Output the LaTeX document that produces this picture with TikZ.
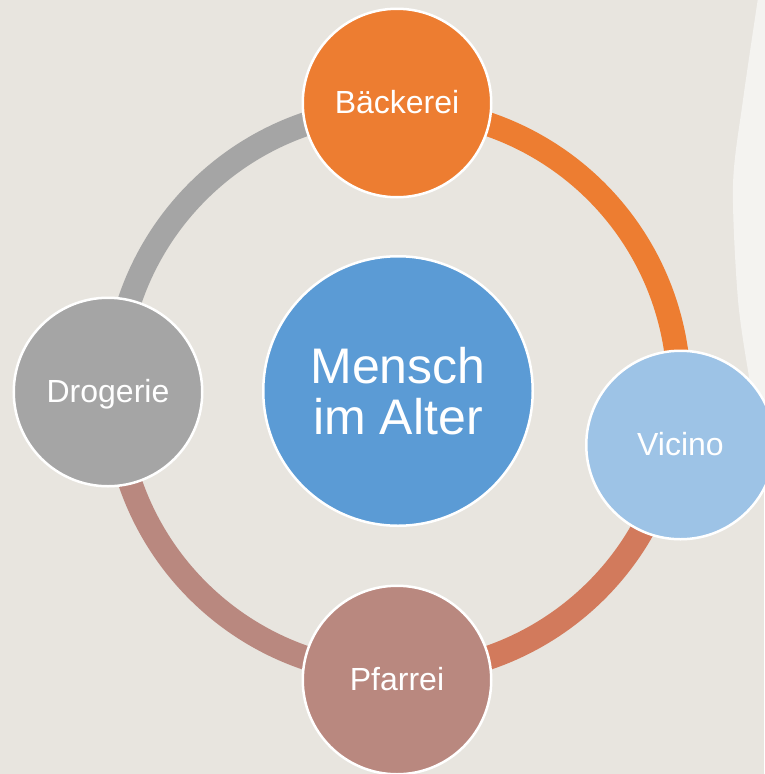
\documentclass[tikz,border=0pt]{standalone}
\usepackage{fontspec}
\setmainfont{Liberation Sans}
\definecolor{bgc}{HTML}{E8E5DF}
\definecolor{bglight}{HTML}{F4F3F0}
\definecolor{cblue}{HTML}{5B9BD5}
\definecolor{corange}{HTML}{ED7D31}
\definecolor{cgray}{HTML}{A5A5A5}
\definecolor{clblue}{HTML}{9DC3E6}
\definecolor{cmauve}{HTML}{B9887F}
\definecolor{crust}{HTML}{D27A5C}
\tikzset{
  ringarc/.style={line width=24pt},
  satnode/.style={circle, draw=white, line width=2.5pt, inner sep=0pt,
    minimum size=188.5pt, text=white, font=\fontsize{32}{36}\selectfont,
    text height=20pt, text depth=0pt},
  hubnode/.style={circle, draw=white, line width=2.5pt, inner sep=0pt,
    minimum size=269.5pt, text=white, align=center,
    font=\fontsize{50}{51.5}\selectfont}
}
\begin{document}
\begin{tikzpicture}[x=1pt,y=1pt]
\useasboundingbox (0,0) rectangle (764,-774);
\fill[bgc] (0,0) rectangle (764,-774);
\fill[bglight] plot[smooth] coordinates {(758,2) (743,-100) (733,-185) (738,-300) (750,-383) (758,-427) (766,-448)} -- (766,2) -- cycle;
\coordinate (ctr) at (397,-391);
\draw[ringarc, cgray] (ctr) ++(90:282) arc (90:180:282);
\draw[ringarc, cmauve] (ctr) ++(180:282) arc (180:270:282);
\draw[ringarc, crust] (ctr) ++(270:282) arc (270:349.2:282);
\draw[ringarc, corange] (ctr) ++(-10.8:282) arc (-10.8:90:282);
\node[hubnode, fill=cblue] (hub) at (398,-391) {Mensch\\im Alter};
\node[satnode, fill=corange] (baeck) at (397,-103) {Bäckerei};
\node[satnode, fill=cgray] (drog) at (108,-392) {Drogerie};
\node[satnode, fill=cmauve] (pfarr) at (397,-680) {Pfarrei};
\node[satnode, fill=clblue] (vicino) at (680.5,-445) {Vicino};
\end{tikzpicture}
\end{document}
